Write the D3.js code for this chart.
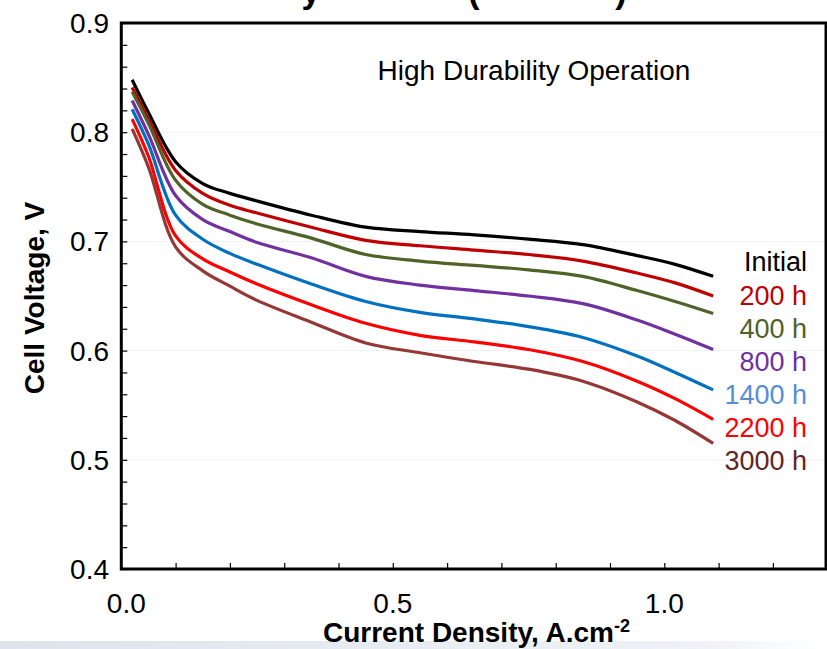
<!DOCTYPE html>
<html>
<head>
<meta charset="utf-8">
<script src="https://cdn.jsdelivr.net/npm/d3@7"></script>
<style>
  html, body { margin: 0; padding: 0; background: #fff; }
  svg { display: block; }
</style>
</head>
<body>
<svg id="chart" width="827" height="649"></svg>
<script>
// ---- data ----
const currentDensity = [0.02, 0.05, 0.10, 0.15, 0.20, 0.25, 0.35, 0.45, 0.55, 0.65, 0.75, 0.85, 0.95, 1.02, 1.09];
const seriesNames = ["Initial", "200 h", "400 h", "800 h", "1400 h", "2200 h", "3000 h"];
const vInitial = [0.848, 0.818, 0.773, 0.753, 0.744, 0.737, 0.724, 0.713, 0.709, 0.706, 0.702, 0.697, 0.687, 0.679, 0.668];
const v200 =     [0.841, 0.812, 0.765, 0.744, 0.733, 0.726, 0.713, 0.701, 0.696, 0.692, 0.688, 0.682, 0.671, 0.662, 0.650];
const v400 =     [0.837, 0.808, 0.756, 0.734, 0.724, 0.716, 0.703, 0.688, 0.682, 0.678, 0.674, 0.668, 0.655, 0.645, 0.634];
const v800 =     [0.829, 0.798, 0.742, 0.720, 0.709, 0.699, 0.685, 0.668, 0.660, 0.655, 0.650, 0.643, 0.628, 0.615, 0.601];
const v1400 =    [0.821, 0.789, 0.724, 0.702, 0.689, 0.679, 0.661, 0.645, 0.635, 0.629, 0.622, 0.612, 0.595, 0.580, 0.564];
const v2200 =    [0.812, 0.778, 0.705, 0.684, 0.672, 0.661, 0.642, 0.625, 0.614, 0.608, 0.601, 0.590, 0.572, 0.556, 0.537];
const v3000 =    [0.803, 0.768, 0.695, 0.673, 0.659, 0.646, 0.626, 0.607, 0.598, 0.590, 0.583, 0.572, 0.553, 0.536, 0.515];
const seriesValues = [vInitial, v200, v400, v800, v1400, v2200, v3000];
const lineColors  = ["#000000", "#c00000", "#4f6228", "#7030a0", "#0070c0", "#ff0000", "#953735"];
const labelColors = ["#000000", "#c00000", "#4f6228", "#7030a0", "#558ed5", "#ff0000", "#632523"];
const xTickLabels = [0.0, 0.5, 1.0];
const yTickLabels = [0.4, 0.5, 0.6, 0.7, 0.8, 0.9];
const annotation = "High Durability Operation";
const xTitle = "Current Density, A.cm";
const xTitleSup = "-2";
const yTitle = "Cell Voltage, V";

// ---- layout ----
const svg = d3.select("#chart");
const pLeft = 121.3, pRight = 826, pTop = 23, pBottom = 569;
const x = d3.scaleLinear().domain([0, 1.3]).range([pLeft, pLeft + 1.3 * 543]);
const y = d3.scaleLinear().domain([0.4, 0.9]).range([pBottom, pTop]);
const font = "'Liberation Sans', Arial, sans-serif";

// bottom slide band
const defs = svg.append("defs");
const grad = defs.append("linearGradient").attr("id", "band").attr("x1", 0).attr("x2", 1).attr("y1", 0).attr("y2", 0);
grad.append("stop").attr("offset", "0%").attr("stop-color", "#dde4ec");
grad.append("stop").attr("offset", "85%").attr("stop-color", "#eef2f6");
grad.append("stop").attr("offset", "100%").attr("stop-color", "#ffffff");
svg.append("rect").attr("x", 0).attr("y", 641).attr("width", 827).attr("height", 8).attr("fill", "url(#band)");

// clipped title fragments at the very top (the reference shows only their lower parts)
const titleFrag = [{t: "y", x: 311}, {t: "(", x: 474}, {t: ")", x: 621}];
svg.selectAll("text.title").data(titleFrag).join("text")
  .attr("class", "title")
  .attr("x", d => d.x).attr("y", 3)
  .attr("text-anchor", "middle")
  .attr("font-family", font).attr("font-weight", "bold").attr("font-size", 34)
  .text(d => d.t);

// faint gridlines
svg.append("g").selectAll("line").data([0.5, 0.6, 0.7, 0.8]).join("line")
  .attr("x1", pLeft).attr("x2", pRight)
  .attr("y1", d => y(d)).attr("y2", d => y(d))
  .attr("stroke", "#f0f0f0").attr("stroke-width", 1);

// axes with inward ticks
const yAxis = d3.axisLeft(y).tickValues(d3.range(0.4, 0.9001, 0.02)).tickSize(-6).tickFormat("");
svg.append("g").attr("transform", `translate(${pLeft},0)`).call(yAxis)
  .call(g => g.select(".domain").remove())
  .call(g => g.selectAll("line").attr("stroke", "#000").attr("stroke-width", 1.2));
const xAxis = d3.axisBottom(x).tickValues(d3.range(0.1, 1.3001, 0.1)).tickSize(-6).tickFormat("");
svg.append("g").attr("transform", `translate(0,${pBottom})`).call(xAxis)
  .call(g => g.select(".domain").remove())
  .call(g => g.selectAll("line").attr("stroke", "#000").attr("stroke-width", 1.2));

// frame
svg.append("rect").attr("x", pLeft).attr("y", pTop).attr("width", pRight - pLeft).attr("height", pBottom - pTop)
  .attr("fill", "none").attr("stroke", "#000").attr("stroke-width", 3);

// tick labels
svg.append("g").selectAll("text").data(yTickLabels).join("text")
  .attr("x", 109).attr("y", d => y(d) + 10)
  .attr("text-anchor", "end")
  .attr("font-family", font).attr("font-size", 28)
  .text(d => d.toFixed(1));
svg.append("g").selectAll("text").data(xTickLabels).join("text")
  .attr("x", d => x(d) + (d === 0 ? 5 : 0)).attr("y", 613)
  .attr("text-anchor", "middle")
  .attr("font-family", font).attr("font-size", 28)
  .text(d => d.toFixed(1));

// axis titles
const xt = svg.append("text").attr("x", 323).attr("y", 642)
  .attr("font-family", font).attr("font-weight", "bold").attr("font-size", 28);
xt.append("tspan").text(xTitle);
xt.append("tspan").attr("dy", -10).attr("font-size", 18).text(xTitleSup);

svg.append("text")
  .attr("transform", `translate(44,298) rotate(-90)`)
  .attr("text-anchor", "middle")
  .attr("font-family", font).attr("font-weight", "bold").attr("font-size", 28)
  .text(yTitle);

// annotation
svg.append("text").attr("x", 534).attr("y", 80)
  .attr("text-anchor", "middle")
  .attr("font-family", font).attr("font-size", 28)
  .text(annotation);

// lines
const line = d3.line().x(d => x(d[0])).y(d => y(d[1])).curve(d3.curveCatmullRom.alpha(0.5));
svg.append("g").selectAll("path").data(seriesValues).join("path")
  .attr("d", vals => line(currentDensity.map((c, i) => [c, vals[i]])))
  .attr("fill", "none")
  .attr("stroke", (d, i) => lineColors[i])
  .attr("stroke-width", 3.2)
  .attr("stroke-linejoin", "round");

// series labels
const labelY = [261, 295, 328, 361, 394, 427, 460];
svg.append("g").selectAll("text").data(seriesNames).join("text")
  .attr("x", 807).attr("y", (d, i) => labelY[i] + 10)
  .attr("text-anchor", "end")
  .attr("font-family", font).attr("font-size", 27)
  .attr("fill", (d, i) => labelColors[i])
  .text(d => d);
</script>
</body>
</html>
